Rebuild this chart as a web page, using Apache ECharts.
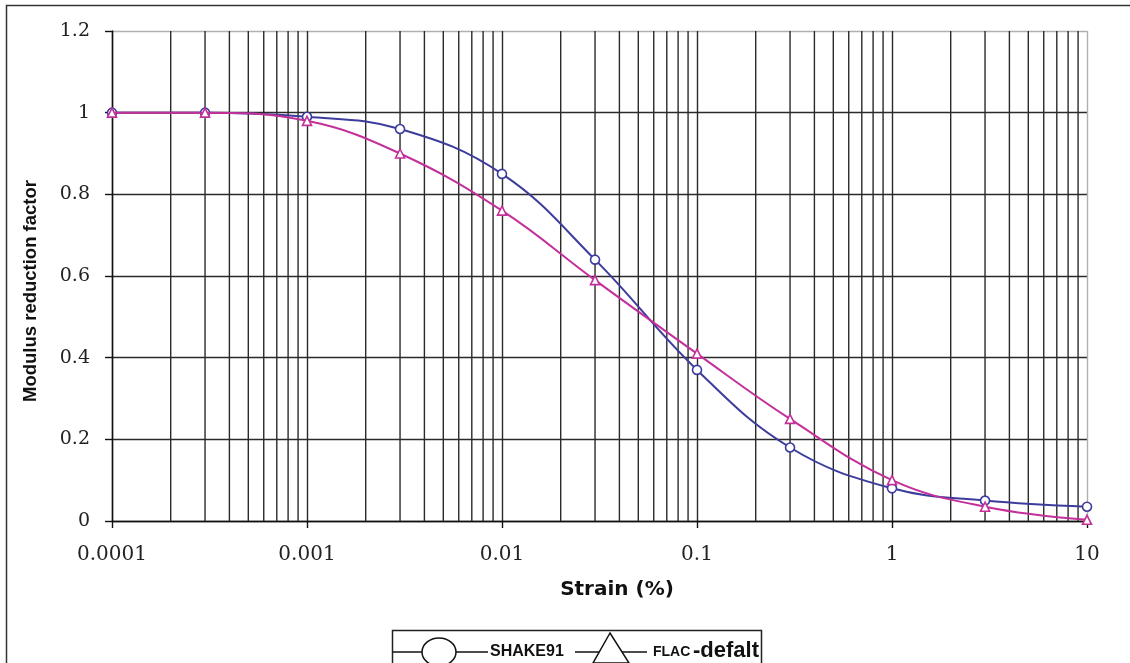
<!DOCTYPE html>
<html>
<head>
<meta charset="utf-8">
<script src="https://cdn.jsdelivr.net/npm/echarts@6/dist/echarts.min.js"></script>
<style>
  html, body { margin: 0; padding: 0; background: #fff; }
  #chart { width: 1130px; height: 663px; }
</style>
</head>
<body>
<div id="chart"></div>
<script>
// Shear strain (%) at which the modulus reduction factor was computed
const strain = [0.0001, 0.0003, 0.001, 0.003, 0.01, 0.03, 0.1, 0.3, 1, 3, 10];
// SHAKE91 modulus reduction curve
const shake91 = [1, 1, 0.99, 0.96, 0.85, 0.64, 0.37, 0.18, 0.08, 0.05, 0.035];
// FLAC default modulus reduction curve
const flacDefault = [1, 1, 0.98, 0.90, 0.76, 0.59, 0.41, 0.25, 0.10, 0.035, 0.003];
// Decade tick labels on the strain axis
const decadeLabels = ['0.0001', '0.001', '0.01', '0.1', '1', '10'];
const decades = [0.0001, 0.001, 0.01, 0.1, 1, 10];
// Intermediate gridline multipliers inside each decade
const minorSteps = [2, 3, 4, 5, 6, 7, 8, 9];

const minorValues = [];
decades.slice(0, -1).forEach(d => {
  minorSteps.forEach(m => minorValues.push([+(d * m).toPrecision(6)]));
});

const Y_MIN = 0;
const Y_MAX = 1.2;

const SHAKE_COLOR = '#3d3c9c';
const FLAC_COLOR = '#c3309a';
const GRID_DARK = '#2a2a2a';
const GRID_EDGE = '#b0b0b0';
const GRID_WIDTH = 1.4;

const chart = echarts.init(document.getElementById('chart'), null, { renderer: 'canvas' });

const option = {
  backgroundColor: '#fff',
  animation: false,
  grid: { left: 112, right: 43, top: 31, bottom: 142, containLabel: false },
  xAxis: {
    type: 'log',
    logBase: 10,
    min: 0.0001,
    max: 10,
    axisLine: { show: true, onZero: false, lineStyle: { color: '#111', width: 1.4 } },
    axisTick: { show: true, inside: false, length: 7, lineStyle: { color: '#111', width: 1.4 } },
    axisLabel: {
      margin: 24,
      fontFamily: 'DejaVu Serif',
      fontSize: 20,
      color: '#222',
      formatter: v => decadeLabels[Math.round(Math.log10(v)) + 4]
    },
    splitLine: {
      show: true,
      lineStyle: { color: [GRID_DARK, GRID_DARK, GRID_DARK, GRID_DARK, GRID_DARK, GRID_EDGE], width: GRID_WIDTH }
    }
  },
  yAxis: {
    type: 'value',
    min: Y_MIN,
    max: Y_MAX,
    interval: 0.2,
    axisLine: { show: true, lineStyle: { color: '#111', width: 1.4 } },
    axisTick: { show: true, inside: false, length: 7, lineStyle: { color: '#111', width: 1.4 } },
    axisLabel: {
      margin: 22,
      fontFamily: 'DejaVu Serif',
      fontSize: 19,
      color: '#222',
      formatter: v => (Math.round(v * 10) / 10).toString()
    },
    splitLine: {
      show: true,
      lineStyle: { color: [GRID_DARK, GRID_DARK, GRID_DARK, GRID_DARK, GRID_DARK, GRID_DARK, GRID_EDGE], width: GRID_WIDTH }
    }
  },
  series: [
    {
      // intermediate vertical gridlines at 2..9 of every decade
      name: 'minor-grid',
      type: 'custom',
      z: 1,
      silent: true,
      data: minorValues,
      encode: { x: 0 },
      renderItem: (params, api) => {
        const x = api.value(0);
        const bottom = api.coord([x, Y_MIN]);
        const top = api.coord([x, Y_MAX]);
        return {
          type: 'line',
          shape: { x1: bottom[0], y1: bottom[1], x2: top[0], y2: top[1] },
          style: { stroke: GRID_DARK, lineWidth: GRID_WIDTH }
        };
      }
    },
    {
      name: 'SHAKE91',
      type: 'line',
      z: 3,
      smooth: 0.4,
      data: strain.map((x, i) => [x, shake91[i]]),
      symbol: 'circle',
      symbolSize: 9,
      showSymbol: true,
      lineStyle: { color: SHAKE_COLOR, width: 2 },
      itemStyle: { color: '#fff', borderColor: SHAKE_COLOR, borderWidth: 1.6 }
    },
    {
      name: 'FLAC -defalt',
      type: 'line',
      z: 4,
      smooth: 0.4,
      data: strain.map((x, i) => [x, flacDefault[i]]),
      symbol: 'triangle',
      symbolSize: 9,
      showSymbol: true,
      lineStyle: { color: FLAC_COLOR, width: 2 },
      itemStyle: { color: '#fff', borderColor: FLAC_COLOR, borderWidth: 1.6 }
    }
  ],
  graphic: [
    // frame around the chart
    {
      type: 'polyline',
      silent: true,
      shape: { points: [[6.5, 663], [6.5, 5.5], [1130, 5.5]] },
      style: { stroke: '#333', lineWidth: 1.5, fill: null }
    },
    // axis titles
    {
      type: 'text', silent: true,
      x: 31, y: 291, rotation: Math.PI / 2,
      style: {
        text: 'Modulus reduction factor', fill: '#111',
        font: 'bold 18.5px "Liberation Sans"', textAlign: 'center', textVerticalAlign: 'middle'
      }
    },
    {
      type: 'text', silent: true,
      x: 617, y: 590,
      style: {
        text: 'Strain (%)', fill: '#111',
        font: 'bold 20px "DejaVu Sans"', textAlign: 'center', textVerticalAlign: 'middle'
      }
    },
    // legend box
    {
      type: 'rect',
      silent: true,
      shape: { x: 392.5, y: 630.5, width: 369, height: 60 },
      style: { stroke: '#222', lineWidth: 1.5, fill: '#fff' }
    },
    {
      type: 'line', silent: true,
      shape: { x1: 393, y1: 652, x2: 488, y2: 652 },
      style: { stroke: '#111', lineWidth: 1.5 }
    },
    {
      type: 'ellipse', silent: true,
      shape: { cx: 439, cy: 652, rx: 17, ry: 14 },
      style: { stroke: '#111', lineWidth: 1.5, fill: '#fff' }
    },
    {
      type: 'text', silent: true,
      style: {
        x: 490, y: 652, text: 'SHAKE91', fill: '#111',
        font: 'bold 16px "Liberation Sans"', textVerticalAlign: 'middle'
      }
    },
    {
      type: 'line', silent: true,
      shape: { x1: 575, y1: 652, x2: 647, y2: 652 },
      style: { stroke: '#111', lineWidth: 1.5 }
    },
    {
      type: 'polygon', silent: true,
      shape: { points: [[610, 633], [593, 663], [629, 663]] },
      style: { stroke: '#111', lineWidth: 1.5, fill: '#fff' }
    },
    {
      type: 'text', silent: true,
      style: {
        x: 653, y: 652, text: 'FLAC', fill: '#111',
        font: 'bold 14px "Liberation Sans"', textVerticalAlign: 'middle'
      }
    },
    {
      type: 'text', silent: true,
      style: {
        x: 693, y: 651, text: '-defalt', fill: '#111',
        font: 'bold 22px "Liberation Sans"', textVerticalAlign: 'middle'
      }
    }
  ]
};

chart.setOption(option);
</script>
</body>
</html>
